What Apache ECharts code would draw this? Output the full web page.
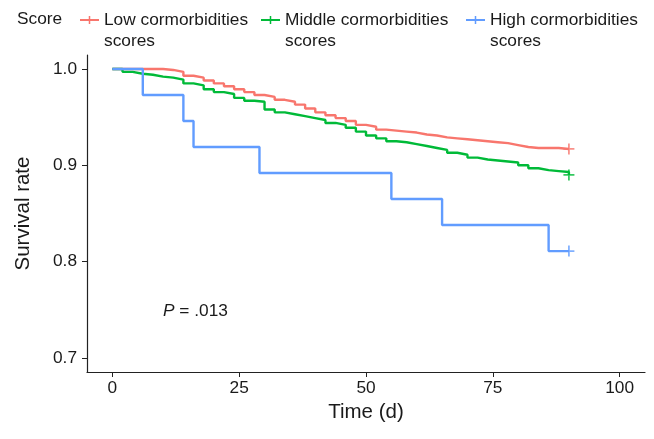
<!DOCTYPE html>
<html>
<head>
<meta charset="utf-8">
<style>
html,body{margin:0;padding:0;background:#fff;}
#chart{width:654px;height:439px;}
</style>
<script src="https://cdn.jsdelivr.net/npm/echarts@6/dist/echarts.min.js"></script>
</head>
<body>
<div id="chart"></div>
<script>
const groupNames = ['Low cormorbidities', 'Middle cormorbidities', 'High cormorbidities'];
const groupColors = ['#F8766D', '#00BA38', '#619CFF'];

const lowTime = [0,10,12,14,16,18,20,22,24,26,28,30,32,34,36,38,40,42,44,46,48,50,52,54,56,58,60,62,64,66,68,70,72,74,76,78,80,82,84,86,88,90];
const lowSurv = [1.000,0.999,0.997,0.993,0.991,0.988,0.985,0.982,0.979,0.976,0.973,0.971,0.968,0.966,0.963,0.959,0.955,0.952,0.949,0.946,0.942,0.940,0.937,0.936,0.935,0.934,0.932,0.931,0.929,0.928,0.927,0.926,0.925,0.924,0.923,0.921,0.919,0.918,0.918,0.918,0.917,0.917];

const midTime = [0,2,4,6,8,10,12,14,16,18,20,22,24,26,28,30,32,34,36,38,40,42,44,46,48,50,52,54,56,58,60,62,64,66,68,70,72,74,76,78,80,82,84,86,88,90];
const midSurv = [1.000,0.997,0.995,0.994,0.992,0.991,0.989,0.985,0.983,0.979,0.976,0.974,0.970,0.967,0.966,0.958,0.955,0.953,0.951,0.949,0.947,0.944,0.942,0.939,0.935,0.931,0.928,0.925,0.924,0.922,0.920,0.918,0.916,0.913,0.911,0.908,0.906,0.905,0.904,0.903,0.900,0.897,0.895,0.894,0.893,0.890];

const highTime = [0,6,14,16,29,55,65,86,90];
const highSurv = [1.000,0.973,0.946,0.919,0.892,0.865,0.838,0.811,0.811];

const xTicks = [0,25,50,75,100];
const yTicks = [0.7,0.8,0.9,1.0];

const FONT = "'Liberation Sans', Arial, sans-serif";
const TXT = '#1a1a1a';

const curves = [[lowTime, lowSurv], [midTime, midSurv], [highTime, highSurv]];
const plusPath = 'path://M0,4.2H10V5.8H0Z M4.2,0H5.8V10H4.2Z';
const legendIcon = 'path://M0,3H19V5H0Z M8.75,0H10.25V8H8.75Z';

const series = [];
curves.forEach(function (c, i) {
  const data = c[0].map(function (t, k) { return [t, c[1][k]]; });
  series.push({
    name: groupNames[i],
    type: 'line',
    step: 'end',
    symbol: 'none',
    color: groupColors[i],
    lineStyle: { width: 2.4, color: groupColors[i] },
    data: data,
    z: 3
  });
  const last = c[0].length - 1;
  series.push({
    name: groupNames[i],
    type: 'scatter',
    symbol: plusPath,
    symbolSize: 11,
    color: groupColors[i],
    itemStyle: { color: groupColors[i] },
    data: [[c[0][last], c[1][last]]],
    z: 4,
    silent: true
  });
});

const legendLefts = [80, 261, 466];
const legends = groupNames.map(function (n, i) {
  return {
    data: [n],
    left: legendLefts[i],
    top: 11,
    orient: 'horizontal',
    icon: legendIcon,
    itemWidth: 19,
    itemHeight: 8,
    padding: 0,
    selectedMode: false,
    textStyle: { fontFamily: FONT, fontSize: 17.3, color: TXT, lineHeight: 18 }
  };
});

const graphics = [
  { type: 'text', left: 17, top: 11, style: { text: 'Score', font: '17.3px ' + FONT, fill: TXT } }
];
legendLefts.forEach(function (l) {
  graphics.push({ type: 'text', left: l + 24, top: 33, style: { text: 'scores', font: '17.3px ' + FONT, fill: TXT } });
});
graphics.push({
  type: 'text', left: 163, top: 303,
  style: {
    text: '{i|P} = .013',
    font: '17.3px ' + FONT,
    fill: TXT,
    rich: { i: { fontStyle: 'italic', fontSize: 17.3, fontFamily: FONT, fill: TXT } }
  }
});

const chart = echarts.init(document.getElementById('chart'), null, { renderer: 'canvas' });
chart.setOption({
  animation: false,
  backgroundColor: '#fff',
  grid: { left: 87, right: 9, top: 55, bottom: 67 },
  legend: legends,
  graphic: graphics,
  xAxis: {
    type: 'value',
    min: -5,
    max: 105,
    name: 'Time (d)',
    nameLocation: 'middle',
    nameGap: 28,
    nameTextStyle: { fontFamily: FONT, fontSize: 20.5, color: TXT },
    axisLine: { show: true, onZero: false, lineStyle: { color: '#222', width: 1.2 } },
    axisTick: { show: true, length: 5, lineStyle: { color: '#222' }, customValues: xTicks },
    axisLabel: { fontFamily: FONT, fontSize: 17.3, color: TXT, margin: 8, customValues: xTicks },
    splitLine: { show: false }
  },
  yAxis: {
    type: 'value',
    min: 0.6855,
    max: 1.0145,
    name: 'Survival rate',
    nameLocation: 'middle',
    nameGap: 53,
    nameTextStyle: { fontFamily: FONT, fontSize: 20.5, color: TXT },
    axisLine: { show: true, onZero: false, lineStyle: { color: '#222', width: 1.2 } },
    axisTick: { show: true, length: 5, lineStyle: { color: '#222' }, customValues: yTicks },
    axisLabel: { fontFamily: FONT, fontSize: 17.3, color: TXT, margin: 10, customValues: yTicks,
      formatter: function (v) { return v.toFixed(1); } },
    splitLine: { show: false }
  },
  series: series
});
</script>
</body>
</html>
